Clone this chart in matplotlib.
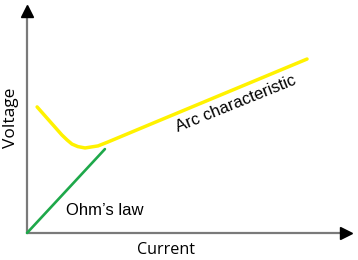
import matplotlib
matplotlib.use("Agg")
import matplotlib.pyplot as plt

# Arc characteristic (current, voltage) in arbitrary units
arc_current = [0.31, 1.07, 1.23, 1.38, 1.56, 1.78, 2.18, 2.48, 3.87, 8.59]
arc_voltage = [5.53, 4.30, 4.08, 3.90, 3.79, 3.73, 3.82, 3.99, 4.82, 7.63]

# Ohm's law line
ohm_current = [0.0, 2.39]
ohm_voltage = [0.0, 3.68]

x_label = "Current"
y_label = "Voltage"
arc_text = "Arc characteristic"
ohm_text = "Ohm\u2019s law"

W, H = 358, 260
fig = plt.figure(figsize=(W / 100, H / 100), dpi=100)
ax = fig.add_axes([27 / W, (H - 233) / H, 326 / W, 228 / H])
ax.set_xlim(0, 10)
ax.set_ylim(0, 10)
ax.axis("off")

# axes with arrowheads
ax.plot([0, 9.75], [0, 0], color="#7a7a7a", lw=1.6, clip_on=False, solid_capstyle="butt")
ax.plot([0, 0], [0, 9.7], color="#7a7a7a", lw=1.6, clip_on=False, solid_capstyle="butt")
ax.plot([9.78], [0], marker=">", color="black", markersize=8, clip_on=False)
ax.plot([0], [9.75], marker="^", color="black", markersize=8, clip_on=False)

ax.plot(arc_current, arc_voltage, color="#FFF200", lw=2.5, clip_on=False,
        solid_joinstyle="round", solid_capstyle="round")
ax.plot(ohm_current, ohm_voltage, color="#1EA84A", lw=1.9, clip_on=False,
        solid_capstyle="round")

ax.text(6.42, 5.68, arc_text, rotation=22, rotation_mode="anchor",
        ha="center", va="center", fontsize=12, family="Liberation Sans", color="black")
ax.text(2.38, 0.97, ohm_text, ha="center", va="center", fontsize=12,
        family="Liberation Sans", color="black")

fig.text(166 / W, 1 - 250 / H, x_label, ha="center", va="center", fontsize=11.6,
         family="Open Sans", color="black")
fig.text(11 / W, 1 - 118 / H, y_label, ha="center", va="center", rotation=90,
         fontsize=12.5, family="Open Sans", color="black")

fig.savefig("out.png", dpi=100)
